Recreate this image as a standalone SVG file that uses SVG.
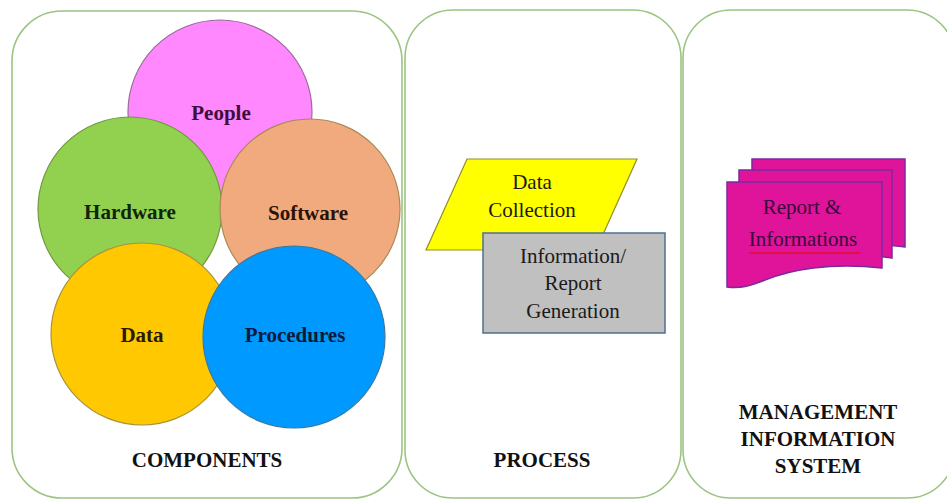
<svg xmlns="http://www.w3.org/2000/svg" width="947" height="499" viewBox="0 0 947 499" font-family="Times New Roman, Liberation Serif, serif">
<defs>
<style>
.panel{fill:#fff;stroke:#9cc483;stroke-width:1.6}
.doc{fill:#e0139b;stroke:#7a2aa0;stroke-width:1.5}
</style>
</defs>
<rect width="947" height="499" fill="#fff"/>
<g id="panel-components">
<rect class="panel" x="12" y="11" width="390" height="487" rx="50"/>
</g>
<g id="panel-process">
<rect class="panel" x="405" y="10" width="276" height="488" rx="48"/>
</g>
<g id="panel-mis">
<rect class="panel" x="683" y="10" width="272" height="488" rx="48"/>
</g>
<g id="people">
<circle cx="220" cy="112" r="92" fill="#ff88ff" stroke="#9c6a9c" stroke-width="1.2"/>
<text font-family="Times New Roman, Liberation Serif, serif" font-weight="bold" font-size="21" text-anchor="middle" x="221" y="120" fill="#3a0f3a">People</text>
</g>
<g id="hardware">
<circle cx="130" cy="209" r="92" fill="#92d050" stroke="#6f9a3e" stroke-width="1.2"/>
<text font-family="Times New Roman, Liberation Serif, serif" font-weight="bold" font-size="21" text-anchor="middle" x="130" y="219" fill="#10240a">Hardware</text>
</g>
<g id="software">
<circle cx="310" cy="209" r="90" fill="#f0aa7e" stroke="#a88a52" stroke-width="1.2"/>
<text font-family="Times New Roman, Liberation Serif, serif" font-weight="bold" font-size="21" text-anchor="middle" x="308" y="220" fill="#2a1408">Software</text>
</g>
<g id="data">
<circle cx="142" cy="334" r="91" fill="#ffc800" stroke="#a8943a" stroke-width="1.2"/>
<text font-family="Times New Roman, Liberation Serif, serif" font-weight="bold" font-size="21" text-anchor="middle" x="142" y="342" fill="#2a1a00">Data</text>
</g>
<g id="procedures">
<circle cx="294" cy="337" r="91" fill="#0099ff" stroke="#3a7aa0" stroke-width="1.2"/>
<text font-family="Times New Roman, Liberation Serif, serif" font-weight="bold" font-size="21" text-anchor="middle" x="295" y="342" fill="#0a1a3a">Procedures</text>
</g>
<g id="components-label">
<text font-family="Times New Roman, Liberation Serif, serif" font-weight="bold" font-size="21" text-anchor="middle" x="207" y="467" fill="#111">COMPONENTS</text>
</g>
<g id="data-collection">
<polygon points="467,159 637,159 596,250 426,250" fill="#ffff00" stroke="#8f8f2a" stroke-width="1.2"/>
<text font-family="Times New Roman, Liberation Serif, serif" font-size="21" text-anchor="middle" x="532" y="189" fill="#1a1a1a">Data</text>
<text font-family="Times New Roman, Liberation Serif, serif" font-size="21" text-anchor="middle" x="532" y="217" fill="#1a1a1a">Collection</text>
</g>
<g id="report-generation">
<rect x="483" y="233" width="182" height="100" fill="#c0c0c0" stroke="#4f6f8f" stroke-width="1.5"/>
<text font-family="Times New Roman, Liberation Serif, serif" font-size="21" text-anchor="middle" x="573" y="263" fill="#1a1a1a">Information/</text>
<text font-family="Times New Roman, Liberation Serif, serif" font-size="21" text-anchor="middle" x="573" y="290" fill="#1a1a1a">Report</text>
<text font-family="Times New Roman, Liberation Serif, serif" font-size="21" text-anchor="middle" x="573" y="318" fill="#1a1a1a">Generation</text>
</g>
<g id="process-label">
<text font-family="Times New Roman, Liberation Serif, serif" font-weight="bold" font-size="21" text-anchor="middle" x="542" y="467" fill="#111">PROCESS</text>
</g>
<g id="report-informations">
<path class="doc" d="M752,159 H905 V247 C880,244 870,246 860,250 V240 H752 Z"/>
<path class="doc" d="M739,170 H892 V258 C870,255 860,257 850,261 V250 H739 Z"/>
<path class="doc" d="M727,182 H882 V268 C830,262 790,270 765,280 C750,286 740,289 727,287 Z"/>
<text font-family="Times New Roman, Liberation Serif, serif" font-size="21" text-anchor="middle" x="802" y="214" fill="#3a0a3a">Report &amp;</text>
<text font-family="Times New Roman, Liberation Serif, serif" font-size="21" text-anchor="middle" x="803" y="246" fill="#3a0a3a">Informations</text>
<line x1="749" y1="253" x2="860" y2="253" stroke="#e01020" stroke-width="1.5"/>
</g>
<g id="mis-label">
<text font-family="Times New Roman, Liberation Serif, serif" font-weight="bold" font-size="21" text-anchor="middle" x="818" y="419" fill="#111">MANAGEMENT</text>
<text font-family="Times New Roman, Liberation Serif, serif" font-weight="bold" font-size="21" text-anchor="middle" x="818" y="446" fill="#111">INFORMATION</text>
<text font-family="Times New Roman, Liberation Serif, serif" font-weight="bold" font-size="21" text-anchor="middle" x="818" y="473" fill="#111">SYSTEM</text>
</g>
<g id="connectors"></g>
</svg>
